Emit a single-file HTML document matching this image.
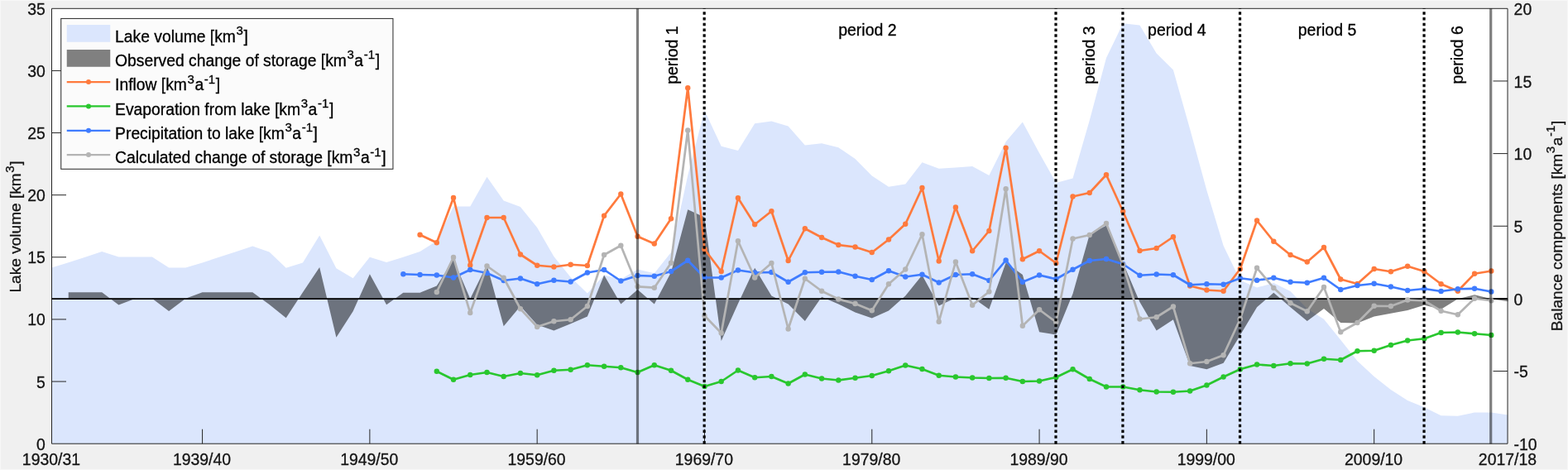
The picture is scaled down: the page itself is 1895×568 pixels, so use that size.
<!DOCTYPE html>
<html lang="en">
<head>
<meta charset="utf-8">
<title>Lake volume and balance components</title>
<style>
html,body{margin:0;padding:0;background:#f0f0f0;}
body{width:1895px;height:568px;overflow:hidden;}
svg{display:block;}
text{font-family:"Liberation Sans",Arial,Helvetica,sans-serif;font-size:19.5px;fill:#000;stroke:#000;stroke-width:0.3px;}
.tk{fill:#141414;stroke:#141414;font-size:19.4px;}
.lb{fill:#141414;stroke:#141414;font-size:19.1px;}
.lg{font-size:19.3px;}
.sup{font-size:15px;}
.ln{fill:none;stroke-width:2.7;stroke-linejoin:round;stroke-linecap:butt;}
.ax{stroke:#262626;stroke-width:1;fill:none;}
</style>
</head>
<body>
<svg width="1895" height="568" viewBox="0 0 1895 568">
<rect x="0" y="0" width="1895" height="568" fill="#f0f0f0"/>
<rect x="0.5" y="0.5" width="1894" height="567" fill="none" stroke="#f7f7f7" stroke-width="1"/>
<rect x="62.5" y="10.3" width="1759.5" height="525.9000000000001" fill="#ffffff"/>
<polygon fill="#dbe6fd" points="62.5,536.2 62.5,323.5 82.73,317.25 102.96,310.75 123.19,304 143.42,310.5 163.65,310.5 183.88,310.5 204.11,323.5 224.34,323.5 244.57,317.5 264.8,310.75 285.03,304.25 305.26,297.5 325.49,304.5 345.72,323.75 365.95,317.5 386.18,284.5 406.41,324.25 426.64,336.25 446.87,310.75 467.1,317 487.33,310.75 507.56,304 527.79,291.25 548.02,249.5 568.25,249.5 588.48,213.75 608.71,242.5 628.94,250 649.17,275 669.4,310 689.63,335 709.86,354.5 730.09,332.4 750.32,337.5 770.55,325.4 790.78,330.2 811.01,305 831.24,212 851.47,133.6 871.7,176.75 891.93,182 912.16,149.25 932.39,146.5 952.62,152.5 972.85,175.5 993.08,173.25 1013.31,178.25 1033.54,192 1053.77,212.5 1074.0,225.75 1094.23,222.5 1114.46,196.25 1134.69,203.75 1154.92,202.5 1175.15,201 1195.38,212 1215.61,171.25 1235.84,147.5 1256.07,185 1276.3,221 1296.53,215.5 1316.76,145.5 1336.99,70 1357.22,28.25 1377.45,30.5 1397.68,64.5 1417.91,84.5 1438.14,156 1458.37,230 1478.6,297 1498.83,338.75 1519.06,347.5 1539.29,342 1559.52,352 1579.75,373 1599.98,385.8 1620.21,410.8 1640.44,436.3 1660.67,455 1680.9,471 1701.13,484 1721.36,492.25 1741.59,502.25 1761.82,502.75 1782.05,498.5 1802.28,498.5 1822.51,501.5 1822.0,536.2"/>
<polygon fill="#000" fill-opacity="0.5" points="82.73,360.8 82.73,353.25 102.96,353.25 123.19,353.25 143.42,368.5 163.65,360.75 183.88,360.75 204.11,376 224.34,360.75 244.57,353.25 264.8,353.25 285.03,353.25 305.26,353.25 325.49,368 345.72,384.2 365.95,353.3 386.18,323 406.41,407.7 426.64,376.25 446.87,331.25 467.1,368.25 487.33,353.75 507.56,353.75 527.79,345.5 548.02,313.75 568.25,361 588.48,320 608.71,394.25 628.94,370 649.17,392.5 669.4,399.5 689.63,391.25 709.86,382.5 730.09,332.4 750.32,367.5 770.55,350 790.78,367.5 811.01,329 831.24,253.25 851.47,262.5 871.7,412 891.93,367 912.16,323.75 932.39,357.5 952.62,367.5 972.85,388 993.08,358.75 1013.31,367.5 1033.54,377.5 1053.77,384.5 1074.0,375.5 1094.23,357.5 1114.46,332.5 1134.69,369.5 1154.92,360 1175.15,359.5 1195.38,373.75 1215.61,317.5 1235.84,332 1256.07,401.25 1276.3,404.5 1296.53,355 1316.76,283.5 1336.99,272.5 1357.22,317.5 1377.45,365 1397.68,399.5 1417.91,386.25 1438.14,442 1458.37,446.25 1478.6,438.75 1498.83,405 1519.06,371.25 1539.29,353.75 1559.52,371.25 1579.75,388 1599.98,373 1620.21,390 1640.44,390.5 1660.67,382.5 1680.9,378.75 1701.13,375 1721.36,368.75 1741.59,373.75 1761.82,361.25 1782.05,356.25 1802.28,361.25 1822.51,364.25 1822.51,360.8"/>
<g class="ax"><path d="M62.5 10.3H1822.0V536.2H62.5Z"/><path d="M62.5 461.07h17.5"/><path d="M62.5 385.94h17.5"/><path d="M62.5 310.81h17.5"/><path d="M62.5 235.69h17.5"/><path d="M62.5 160.56h17.5"/><path d="M62.5 85.43h17.5"/><path d="M1822.0 448.55h-17.5"/><path d="M1822.0 360.90h-17.5"/><path d="M1822.0 273.25h-17.5"/><path d="M1822.0 185.60h-17.5"/><path d="M1822.0 97.95h-17.5"/><path d="M244.57 536.2v-17.5"/><path d="M446.87 536.2v-17.5"/><path d="M649.17 536.2v-17.5"/><path d="M851.47 536.2v-17.5"/><path d="M1053.77 536.2v-17.5"/><path d="M1256.07 536.2v-17.5"/><path d="M1458.37 536.2v-17.5"/><path d="M1660.67 536.2v-17.5"/></g>
<path d="M62.5 361.2H1822.0" stroke="#000" stroke-width="1.75" fill="none"/>
<polyline class="ln" stroke="#ff7a3d" points="507.56,283.75 527.79,293.25 548.02,239 568.25,320.5 588.48,263 608.71,263 628.94,307.5 649.17,320.75 669.4,322.5 689.63,319.75 709.86,321 730.09,260.75 750.32,234.5 770.55,285.75 790.78,294.5 811.01,264.25 831.24,106.25 851.47,301.25 871.7,328 891.93,239.25 912.16,271.25 932.39,255.25 952.62,315 972.85,276.25 993.08,287 1013.31,296 1033.54,298.5 1053.77,305 1074.0,289.5 1094.23,270.75 1114.46,227 1134.69,315.5 1154.92,250.5 1175.15,303.25 1195.38,279 1215.61,178.75 1235.84,313.25 1256.07,303.25 1276.3,318 1296.53,237.5 1316.76,233 1336.99,211.25 1357.22,255.5 1377.45,303 1397.68,300 1417.91,286.25 1438.14,345.5 1458.37,350.5 1478.6,351.75 1498.83,325 1519.06,266.5 1539.29,291.75 1559.52,308 1579.75,316.5 1599.98,299 1620.21,337.5 1640.44,343 1660.67,325 1680.9,328.25 1701.13,321.75 1721.36,328 1741.59,343.25 1761.82,351.75 1782.05,330.75 1802.28,327.5"/>
<g fill="#ff7a3d"><circle cx="507.56" cy="283.75" r="3.2"/><circle cx="527.79" cy="293.25" r="3.2"/><circle cx="548.02" cy="239" r="3.2"/><circle cx="568.25" cy="320.5" r="3.2"/><circle cx="588.48" cy="263" r="3.2"/><circle cx="608.71" cy="263" r="3.2"/><circle cx="628.94" cy="307.5" r="3.2"/><circle cx="649.17" cy="320.75" r="3.2"/><circle cx="669.4" cy="322.5" r="3.2"/><circle cx="689.63" cy="319.75" r="3.2"/><circle cx="709.86" cy="321" r="3.2"/><circle cx="730.09" cy="260.75" r="3.2"/><circle cx="750.32" cy="234.5" r="3.2"/><circle cx="770.55" cy="285.75" r="3.2"/><circle cx="790.78" cy="294.5" r="3.2"/><circle cx="811.01" cy="264.25" r="3.2"/><circle cx="831.24" cy="106.25" r="3.2"/><circle cx="851.47" cy="301.25" r="3.2"/><circle cx="871.7" cy="328" r="3.2"/><circle cx="891.93" cy="239.25" r="3.2"/><circle cx="912.16" cy="271.25" r="3.2"/><circle cx="932.39" cy="255.25" r="3.2"/><circle cx="952.62" cy="315" r="3.2"/><circle cx="972.85" cy="276.25" r="3.2"/><circle cx="993.08" cy="287" r="3.2"/><circle cx="1013.31" cy="296" r="3.2"/><circle cx="1033.54" cy="298.5" r="3.2"/><circle cx="1053.77" cy="305" r="3.2"/><circle cx="1074.0" cy="289.5" r="3.2"/><circle cx="1094.23" cy="270.75" r="3.2"/><circle cx="1114.46" cy="227" r="3.2"/><circle cx="1134.69" cy="315.5" r="3.2"/><circle cx="1154.92" cy="250.5" r="3.2"/><circle cx="1175.15" cy="303.25" r="3.2"/><circle cx="1195.38" cy="279" r="3.2"/><circle cx="1215.61" cy="178.75" r="3.2"/><circle cx="1235.84" cy="313.25" r="3.2"/><circle cx="1256.07" cy="303.25" r="3.2"/><circle cx="1276.3" cy="318" r="3.2"/><circle cx="1296.53" cy="237.5" r="3.2"/><circle cx="1316.76" cy="233" r="3.2"/><circle cx="1336.99" cy="211.25" r="3.2"/><circle cx="1357.22" cy="255.5" r="3.2"/><circle cx="1377.45" cy="303" r="3.2"/><circle cx="1397.68" cy="300" r="3.2"/><circle cx="1417.91" cy="286.25" r="3.2"/><circle cx="1438.14" cy="345.5" r="3.2"/><circle cx="1458.37" cy="350.5" r="3.2"/><circle cx="1478.6" cy="351.75" r="3.2"/><circle cx="1498.83" cy="325" r="3.2"/><circle cx="1519.06" cy="266.5" r="3.2"/><circle cx="1539.29" cy="291.75" r="3.2"/><circle cx="1559.52" cy="308" r="3.2"/><circle cx="1579.75" cy="316.5" r="3.2"/><circle cx="1599.98" cy="299" r="3.2"/><circle cx="1620.21" cy="337.5" r="3.2"/><circle cx="1640.44" cy="343" r="3.2"/><circle cx="1660.67" cy="325" r="3.2"/><circle cx="1680.9" cy="328.25" r="3.2"/><circle cx="1701.13" cy="321.75" r="3.2"/><circle cx="1721.36" cy="328" r="3.2"/><circle cx="1741.59" cy="343.25" r="3.2"/><circle cx="1761.82" cy="351.75" r="3.2"/><circle cx="1782.05" cy="330.75" r="3.2"/><circle cx="1802.28" cy="327.5" r="3.2"/></g>
<polyline class="ln" stroke="#29c72e" points="527.79,448.75 548.02,458.75 568.25,453 588.48,450 608.71,455 628.94,451 649.17,453.25 669.4,447.75 689.63,446.75 709.86,441.25 730.09,442.75 750.32,444.25 770.55,450 790.78,441.25 811.01,447.75 831.24,458.75 851.47,467 871.7,461 891.93,447.5 912.16,456.25 932.39,455 952.62,463.5 972.85,452.5 993.08,457.5 1013.31,459.5 1033.54,456.75 1053.77,454 1074.0,448.25 1094.23,441.5 1114.46,446 1134.69,453.75 1154.92,455.5 1175.15,456.5 1195.38,457 1215.61,456.75 1235.84,461 1256.07,460.5 1276.3,456 1296.53,446.25 1316.76,458 1336.99,467.5 1357.22,467.5 1377.45,471.25 1397.68,473.5 1417.91,473.75 1438.14,472.5 1458.37,465.5 1478.6,455.5 1498.83,446.25 1519.06,440.5 1539.29,442 1559.52,439.25 1579.75,439.5 1599.98,433.75 1620.21,435 1640.44,424.25 1660.67,423.75 1680.9,417 1701.13,411.5 1721.36,409.25 1741.59,402 1761.82,401.5 1782.05,403.25 1802.28,405"/>
<g fill="#29c72e"><circle cx="527.79" cy="448.75" r="3.2"/><circle cx="548.02" cy="458.75" r="3.2"/><circle cx="568.25" cy="453" r="3.2"/><circle cx="588.48" cy="450" r="3.2"/><circle cx="608.71" cy="455" r="3.2"/><circle cx="628.94" cy="451" r="3.2"/><circle cx="649.17" cy="453.25" r="3.2"/><circle cx="669.4" cy="447.75" r="3.2"/><circle cx="689.63" cy="446.75" r="3.2"/><circle cx="709.86" cy="441.25" r="3.2"/><circle cx="730.09" cy="442.75" r="3.2"/><circle cx="750.32" cy="444.25" r="3.2"/><circle cx="770.55" cy="450" r="3.2"/><circle cx="790.78" cy="441.25" r="3.2"/><circle cx="811.01" cy="447.75" r="3.2"/><circle cx="831.24" cy="458.75" r="3.2"/><circle cx="851.47" cy="467" r="3.2"/><circle cx="871.7" cy="461" r="3.2"/><circle cx="891.93" cy="447.5" r="3.2"/><circle cx="912.16" cy="456.25" r="3.2"/><circle cx="932.39" cy="455" r="3.2"/><circle cx="952.62" cy="463.5" r="3.2"/><circle cx="972.85" cy="452.5" r="3.2"/><circle cx="993.08" cy="457.5" r="3.2"/><circle cx="1013.31" cy="459.5" r="3.2"/><circle cx="1033.54" cy="456.75" r="3.2"/><circle cx="1053.77" cy="454" r="3.2"/><circle cx="1074.0" cy="448.25" r="3.2"/><circle cx="1094.23" cy="441.5" r="3.2"/><circle cx="1114.46" cy="446" r="3.2"/><circle cx="1134.69" cy="453.75" r="3.2"/><circle cx="1154.92" cy="455.5" r="3.2"/><circle cx="1175.15" cy="456.5" r="3.2"/><circle cx="1195.38" cy="457" r="3.2"/><circle cx="1215.61" cy="456.75" r="3.2"/><circle cx="1235.84" cy="461" r="3.2"/><circle cx="1256.07" cy="460.5" r="3.2"/><circle cx="1276.3" cy="456" r="3.2"/><circle cx="1296.53" cy="446.25" r="3.2"/><circle cx="1316.76" cy="458" r="3.2"/><circle cx="1336.99" cy="467.5" r="3.2"/><circle cx="1357.22" cy="467.5" r="3.2"/><circle cx="1377.45" cy="471.25" r="3.2"/><circle cx="1397.68" cy="473.5" r="3.2"/><circle cx="1417.91" cy="473.75" r="3.2"/><circle cx="1438.14" cy="472.5" r="3.2"/><circle cx="1458.37" cy="465.5" r="3.2"/><circle cx="1478.6" cy="455.5" r="3.2"/><circle cx="1498.83" cy="446.25" r="3.2"/><circle cx="1519.06" cy="440.5" r="3.2"/><circle cx="1539.29" cy="442" r="3.2"/><circle cx="1559.52" cy="439.25" r="3.2"/><circle cx="1579.75" cy="439.5" r="3.2"/><circle cx="1599.98" cy="433.75" r="3.2"/><circle cx="1620.21" cy="435" r="3.2"/><circle cx="1640.44" cy="424.25" r="3.2"/><circle cx="1660.67" cy="423.75" r="3.2"/><circle cx="1680.9" cy="417" r="3.2"/><circle cx="1701.13" cy="411.5" r="3.2"/><circle cx="1721.36" cy="409.25" r="3.2"/><circle cx="1741.59" cy="402" r="3.2"/><circle cx="1761.82" cy="401.5" r="3.2"/><circle cx="1782.05" cy="403.25" r="3.2"/><circle cx="1802.28" cy="405" r="3.2"/></g>
<polyline class="ln" stroke="#3f7cff" points="487.33,331.25 507.56,332 527.79,332.5 548.02,335.5 568.25,326 588.48,330 608.71,339 628.94,336.5 649.17,343.3 669.4,338.75 689.63,340.5 709.86,329.5 730.09,326 750.32,339.5 770.55,333 790.78,333.75 811.01,328 831.24,314.75 851.47,335.5 871.7,335.5 891.93,326.5 912.16,329.5 932.39,329 952.62,340.75 972.85,329.25 993.08,328.75 1013.31,328.5 1033.54,333.75 1053.77,338 1074.0,327.25 1094.23,334.5 1114.46,331.75 1134.69,341.5 1154.92,332 1175.15,331.25 1195.38,339 1215.61,314.5 1235.84,340.75 1256.07,332.5 1276.3,337.25 1296.53,325.75 1316.76,315 1336.99,313 1357.22,319.25 1377.45,332.75 1397.68,331.5 1417.91,332.25 1438.14,344.25 1458.37,343.25 1478.6,343.75 1498.83,336.25 1519.06,338.75 1539.29,335.75 1559.52,340.75 1579.75,341.75 1599.98,335.75 1620.21,350 1640.44,345 1660.67,342.75 1680.9,346.5 1701.13,351 1721.36,349 1741.59,352 1761.82,349.25 1782.05,348.75 1802.28,352.5"/>
<g fill="#3f7cff"><circle cx="487.33" cy="331.25" r="3.2"/><circle cx="507.56" cy="332" r="3.2"/><circle cx="527.79" cy="332.5" r="3.2"/><circle cx="548.02" cy="335.5" r="3.2"/><circle cx="568.25" cy="326" r="3.2"/><circle cx="588.48" cy="330" r="3.2"/><circle cx="608.71" cy="339" r="3.2"/><circle cx="628.94" cy="336.5" r="3.2"/><circle cx="649.17" cy="343.3" r="3.2"/><circle cx="669.4" cy="338.75" r="3.2"/><circle cx="689.63" cy="340.5" r="3.2"/><circle cx="709.86" cy="329.5" r="3.2"/><circle cx="730.09" cy="326" r="3.2"/><circle cx="750.32" cy="339.5" r="3.2"/><circle cx="770.55" cy="333" r="3.2"/><circle cx="790.78" cy="333.75" r="3.2"/><circle cx="811.01" cy="328" r="3.2"/><circle cx="831.24" cy="314.75" r="3.2"/><circle cx="851.47" cy="335.5" r="3.2"/><circle cx="871.7" cy="335.5" r="3.2"/><circle cx="891.93" cy="326.5" r="3.2"/><circle cx="912.16" cy="329.5" r="3.2"/><circle cx="932.39" cy="329" r="3.2"/><circle cx="952.62" cy="340.75" r="3.2"/><circle cx="972.85" cy="329.25" r="3.2"/><circle cx="993.08" cy="328.75" r="3.2"/><circle cx="1013.31" cy="328.5" r="3.2"/><circle cx="1033.54" cy="333.75" r="3.2"/><circle cx="1053.77" cy="338" r="3.2"/><circle cx="1074.0" cy="327.25" r="3.2"/><circle cx="1094.23" cy="334.5" r="3.2"/><circle cx="1114.46" cy="331.75" r="3.2"/><circle cx="1134.69" cy="341.5" r="3.2"/><circle cx="1154.92" cy="332" r="3.2"/><circle cx="1175.15" cy="331.25" r="3.2"/><circle cx="1195.38" cy="339" r="3.2"/><circle cx="1215.61" cy="314.5" r="3.2"/><circle cx="1235.84" cy="340.75" r="3.2"/><circle cx="1256.07" cy="332.5" r="3.2"/><circle cx="1276.3" cy="337.25" r="3.2"/><circle cx="1296.53" cy="325.75" r="3.2"/><circle cx="1316.76" cy="315" r="3.2"/><circle cx="1336.99" cy="313" r="3.2"/><circle cx="1357.22" cy="319.25" r="3.2"/><circle cx="1377.45" cy="332.75" r="3.2"/><circle cx="1397.68" cy="331.5" r="3.2"/><circle cx="1417.91" cy="332.25" r="3.2"/><circle cx="1438.14" cy="344.25" r="3.2"/><circle cx="1458.37" cy="343.25" r="3.2"/><circle cx="1478.6" cy="343.75" r="3.2"/><circle cx="1498.83" cy="336.25" r="3.2"/><circle cx="1519.06" cy="338.75" r="3.2"/><circle cx="1539.29" cy="335.75" r="3.2"/><circle cx="1559.52" cy="340.75" r="3.2"/><circle cx="1579.75" cy="341.75" r="3.2"/><circle cx="1599.98" cy="335.75" r="3.2"/><circle cx="1620.21" cy="350" r="3.2"/><circle cx="1640.44" cy="345" r="3.2"/><circle cx="1660.67" cy="342.75" r="3.2"/><circle cx="1680.9" cy="346.5" r="3.2"/><circle cx="1701.13" cy="351" r="3.2"/><circle cx="1721.36" cy="349" r="3.2"/><circle cx="1741.59" cy="352" r="3.2"/><circle cx="1761.82" cy="349.25" r="3.2"/><circle cx="1782.05" cy="348.75" r="3.2"/><circle cx="1802.28" cy="352.5" r="3.2"/></g>
<polyline class="ln" stroke="#b4b4b4" points="527.79,353 548.02,311 568.25,378 588.48,321.5 608.71,335.75 628.94,373.25 649.17,395 669.4,388.25 689.63,386.25 709.86,370 730.09,308 750.32,296.7 770.55,346.3 790.78,347.7 811.01,317.7 831.24,157.5 851.47,381.5 871.7,402.5 891.93,291.25 912.16,335.5 932.39,318 952.62,397.5 972.85,336.75 993.08,351.75 1013.31,361.5 1033.54,367 1053.77,375.25 1074.0,343.25 1094.23,325.5 1114.46,283.25 1134.69,388.75 1154.92,316.5 1175.15,368.75 1195.38,352.5 1215.61,228.25 1235.84,393.75 1256.07,374.25 1276.3,389.25 1296.53,288.5 1316.76,284 1336.99,270 1357.22,320 1377.45,385.5 1397.68,383.25 1417.91,370.5 1438.14,439.25 1458.37,437 1478.6,429.25 1498.83,385.5 1519.06,323.75 1539.29,348 1559.52,366.25 1579.75,376.25 1599.98,347 1620.21,401.25 1640.44,390 1660.67,369.75 1680.9,370 1701.13,362.5 1721.36,363.5 1741.59,375.75 1761.82,380.25 1782.05,360.75 1802.28,363.25"/>
<g fill="#b4b4b4"><circle cx="527.79" cy="353" r="3.2"/><circle cx="548.02" cy="311" r="3.2"/><circle cx="568.25" cy="378" r="3.2"/><circle cx="588.48" cy="321.5" r="3.2"/><circle cx="608.71" cy="335.75" r="3.2"/><circle cx="628.94" cy="373.25" r="3.2"/><circle cx="649.17" cy="395" r="3.2"/><circle cx="669.4" cy="388.25" r="3.2"/><circle cx="689.63" cy="386.25" r="3.2"/><circle cx="709.86" cy="370" r="3.2"/><circle cx="730.09" cy="308" r="3.2"/><circle cx="750.32" cy="296.7" r="3.2"/><circle cx="770.55" cy="346.3" r="3.2"/><circle cx="790.78" cy="347.7" r="3.2"/><circle cx="811.01" cy="317.7" r="3.2"/><circle cx="831.24" cy="157.5" r="3.2"/><circle cx="851.47" cy="381.5" r="3.2"/><circle cx="871.7" cy="402.5" r="3.2"/><circle cx="891.93" cy="291.25" r="3.2"/><circle cx="912.16" cy="335.5" r="3.2"/><circle cx="932.39" cy="318" r="3.2"/><circle cx="952.62" cy="397.5" r="3.2"/><circle cx="972.85" cy="336.75" r="3.2"/><circle cx="993.08" cy="351.75" r="3.2"/><circle cx="1013.31" cy="361.5" r="3.2"/><circle cx="1033.54" cy="367" r="3.2"/><circle cx="1053.77" cy="375.25" r="3.2"/><circle cx="1074.0" cy="343.25" r="3.2"/><circle cx="1094.23" cy="325.5" r="3.2"/><circle cx="1114.46" cy="283.25" r="3.2"/><circle cx="1134.69" cy="388.75" r="3.2"/><circle cx="1154.92" cy="316.5" r="3.2"/><circle cx="1175.15" cy="368.75" r="3.2"/><circle cx="1195.38" cy="352.5" r="3.2"/><circle cx="1215.61" cy="228.25" r="3.2"/><circle cx="1235.84" cy="393.75" r="3.2"/><circle cx="1256.07" cy="374.25" r="3.2"/><circle cx="1276.3" cy="389.25" r="3.2"/><circle cx="1296.53" cy="288.5" r="3.2"/><circle cx="1316.76" cy="284" r="3.2"/><circle cx="1336.99" cy="270" r="3.2"/><circle cx="1357.22" cy="320" r="3.2"/><circle cx="1377.45" cy="385.5" r="3.2"/><circle cx="1397.68" cy="383.25" r="3.2"/><circle cx="1417.91" cy="370.5" r="3.2"/><circle cx="1438.14" cy="439.25" r="3.2"/><circle cx="1458.37" cy="437" r="3.2"/><circle cx="1478.6" cy="429.25" r="3.2"/><circle cx="1498.83" cy="385.5" r="3.2"/><circle cx="1519.06" cy="323.75" r="3.2"/><circle cx="1539.29" cy="348" r="3.2"/><circle cx="1559.52" cy="366.25" r="3.2"/><circle cx="1579.75" cy="376.25" r="3.2"/><circle cx="1599.98" cy="347" r="3.2"/><circle cx="1620.21" cy="401.25" r="3.2"/><circle cx="1640.44" cy="390" r="3.2"/><circle cx="1660.67" cy="369.75" r="3.2"/><circle cx="1680.9" cy="370" r="3.2"/><circle cx="1701.13" cy="362.5" r="3.2"/><circle cx="1721.36" cy="363.5" r="3.2"/><circle cx="1741.59" cy="375.75" r="3.2"/><circle cx="1761.82" cy="380.25" r="3.2"/><circle cx="1782.05" cy="360.75" r="3.2"/><circle cx="1802.28" cy="363.25" r="3.2"/></g>
<path d="M770.5 10.3V536.2" stroke="#000" stroke-opacity="0.5" stroke-width="3.2" fill="none"/>
<path d="M1801.7 10.3V536.2" stroke="#000" stroke-opacity="0.5" stroke-width="3.2" fill="none"/>
<path d="M851.17 536.4000000000001V10.3" stroke="#000" stroke-width="3.2" stroke-dasharray="3.5 3.235" fill="none"/>
<path d="M1276.00 536.4000000000001V10.3" stroke="#000" stroke-width="3.2" stroke-dasharray="3.5 3.235" fill="none"/>
<path d="M1356.92 536.4000000000001V10.3" stroke="#000" stroke-width="3.2" stroke-dasharray="3.5 3.235" fill="none"/>
<path d="M1498.53 536.4000000000001V10.3" stroke="#000" stroke-width="3.2" stroke-dasharray="3.5 3.235" fill="none"/>
<path d="M1721.06 536.4000000000001V10.3" stroke="#000" stroke-width="3.2" stroke-dasharray="3.5 3.235" fill="none"/>
<text transform="translate(54.9 543.7)" text-anchor="end" class="tk">0</text><text transform="translate(54.9 468.57)" text-anchor="end" class="tk">5</text><text transform="translate(54.9 393.44)" text-anchor="end" class="tk">10</text><text transform="translate(54.9 318.31)" text-anchor="end" class="tk">15</text><text transform="translate(54.9 243.19)" text-anchor="end" class="tk">20</text><text transform="translate(54.9 168.06)" text-anchor="end" class="tk">25</text><text transform="translate(54.9 92.93)" text-anchor="end" class="tk">30</text><text transform="translate(54.9 17.8)" text-anchor="end" class="tk">35</text><text transform="translate(1829.6 543.8)" class="tk">-10</text><text transform="translate(1829.6 456.15)" class="tk">-5</text><text transform="translate(1829.6 368.5)" class="tk">0</text><text transform="translate(1829.6 280.85)" class="tk">5</text><text transform="translate(1829.6 193.2)" class="tk">10</text><text transform="translate(1829.6 105.55)" class="tk">15</text><text transform="translate(1829.6 17.9)" class="tk">20</text><text transform="translate(61.9 561.8)" text-anchor="middle" class="tk">1930/31</text><text transform="translate(243.97 561.8)" text-anchor="middle" class="tk">1939/40</text><text transform="translate(446.27 561.8)" text-anchor="middle" class="tk">1949/50</text><text transform="translate(648.57 561.8)" text-anchor="middle" class="tk">1959/60</text><text transform="translate(850.87 561.8)" text-anchor="middle" class="tk">1969/70</text><text transform="translate(1053.17 561.8)" text-anchor="middle" class="tk">1979/80</text><text transform="translate(1255.47 561.8)" text-anchor="middle" class="tk">1989/90</text><text transform="translate(1457.77 561.8)" text-anchor="middle" class="tk">1999/00</text><text transform="translate(1660.07 561.8)" text-anchor="middle" class="tk">2009/10</text><text transform="translate(1821.91 561.8)" text-anchor="middle" class="tk">2017/18</text>
<text transform="translate(25.2 274) rotate(-90)" text-anchor="middle" class="lb rot">Lake volume [km<tspan class="sup" dy="-8.5" dx="0.6">3</tspan><tspan dy="8.5" dx="0.6">]</tspan></text>
<text transform="translate(1887.6 273) rotate(-90)" text-anchor="middle" class="lb rot">Balance components [km<tspan class="sup" dy="-8.5" dx="0.6">3</tspan><tspan dy="8.5" dx="0.6">a</tspan><tspan class="sup" dy="-8.5" dx="0.6">-1</tspan><tspan dy="8.5" dx="0.6">]</tspan></text>
<text transform="translate(818.6 66.6) rotate(-90)" text-anchor="middle" class="rot">period 1</text><text transform="translate(1048.4 43.1)" text-anchor="middle">period 2</text><text transform="translate(1323.3 66.6) rotate(-90)" text-anchor="middle" class="rot">period 3</text><text transform="translate(1422.3 43.1)" text-anchor="middle">period 4</text><text transform="translate(1604 43.1)" text-anchor="middle">period 5</text><text transform="translate(1768 66.3) rotate(-90)" text-anchor="middle" class="rot">period 6</text>
<rect x="73.75" y="22.4" width="401.2" height="181.9" fill="#fbfbfb" stroke="#262626" stroke-width="1"/>
<rect x="80.75" y="30" width="52.5" height="20.75" fill="#dbe6fd"/><rect x="80.75" y="60" width="52.5" height="20.75" fill="#808080"/><path d="M80.75 99.1h52.5" stroke="#ff7a3d" stroke-width="2.3" fill="none"/><circle cx="107" cy="99.1" r="3" fill="#ff7a3d"/><path d="M80.75 128.4h52.5" stroke="#29c72e" stroke-width="2.3" fill="none"/><circle cx="107" cy="128.4" r="3" fill="#29c72e"/><path d="M80.75 157.8h52.5" stroke="#3f7cff" stroke-width="2.3" fill="none"/><circle cx="107" cy="157.8" r="3" fill="#3f7cff"/><path d="M80.75 187.1h52.5" stroke="#b4b4b4" stroke-width="2.3" fill="none"/><circle cx="107" cy="187.1" r="3" fill="#b4b4b4"/><text transform="translate(139.1 50.5)" class="lg">Lake volume [km<tspan class="sup" dy="-8.5" dx="0.6">3</tspan><tspan dy="8.5" dx="0.6">]</tspan></text><text transform="translate(139.1 79.9)" class="lg">Observed change of storage [km<tspan class="sup" dy="-8.5" dx="0.6">3</tspan><tspan dy="8.5" dx="0.6">a</tspan><tspan class="sup" dy="-8.5" dx="0.6">-1</tspan><tspan dy="8.5" dx="0.6">]</tspan></text><text transform="translate(139.1 109.2)" class="lg">Inflow [km<tspan class="sup" dy="-8.5" dx="0.6">3</tspan><tspan dy="8.5" dx="0.6">a</tspan><tspan class="sup" dy="-8.5" dx="0.6">-1</tspan><tspan dy="8.5" dx="0.6">]</tspan></text><text transform="translate(139.1 138.5)" class="lg">Evaporation from lake [km<tspan class="sup" dy="-8.5" dx="0.6">3</tspan><tspan dy="8.5" dx="0.6">a</tspan><tspan class="sup" dy="-8.5" dx="0.6">-1</tspan><tspan dy="8.5" dx="0.6">]</tspan></text><text transform="translate(139.1 167.9)" class="lg">Precipitation to lake [km<tspan class="sup" dy="-8.5" dx="0.6">3</tspan><tspan dy="8.5" dx="0.6">a</tspan><tspan class="sup" dy="-8.5" dx="0.6">-1</tspan><tspan dy="8.5" dx="0.6">]</tspan></text><text transform="translate(139.1 197.2)" class="lg">Calculated change of storage [km<tspan class="sup" dy="-8.5" dx="0.6">3</tspan><tspan dy="8.5" dx="0.6">a</tspan><tspan class="sup" dy="-8.5" dx="0.6">-1</tspan><tspan dy="8.5" dx="0.6">]</tspan></text>
</svg>
</body>
</html>
